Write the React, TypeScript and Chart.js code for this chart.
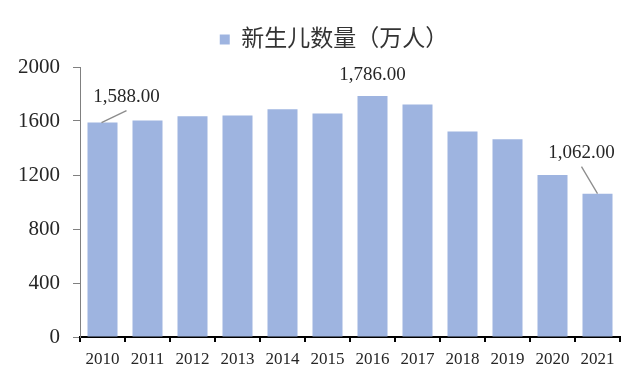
import React, { useEffect, useRef } from "react";
import { Chart, registerables } from "chart.js";

Chart.register(...registerables);

const categories = ["2010", "2011", "2012", "2013", "2014", "2015", "2016", "2017", "2018", "2019", "2020", "2021"];
const births = [1588, 1604, 1635, 1640, 1687, 1655, 1786, 1723, 1523, 1465, 1200, 1062];
const seriesName = "新生儿数量（万人）";
const yTicks = [0, 400, 800, 1200, 1600, 2000];
const labelledIndices = [0, 6, 11];

const BAR_COLOR = "rgb(158,180,224)";
const TEXT_COLOR = "#262626";
const SERIF = '"Liberation Serif", "Times New Roman", serif';

// label placement relative to bar top (dx, dy) and whether a leader line is drawn
const labelPlacement: Record<number, { dx: number; dy: number; leader: boolean }> = {
  0: { dx: 24, dy: -26, leader: true },
  6: { dx: 0, dy: -21, leader: false },
  11: { dx: -16, dy: -41, leader: true },
};

const fmt = (v: number) =>
  v.toLocaleString("en-US", { minimumFractionDigits: 2, maximumFractionDigits: 2 });

const dataLabelPlugin = {
  id: "dataLabels",
  afterDatasetsDraw(chart: any) {
    const ctx = chart.ctx;
    const meta = chart.getDatasetMeta(0);
    ctx.save();
    ctx.font = `19px ${SERIF}`;
    ctx.fillStyle = TEXT_COLOR;
    ctx.textAlign = "center";
    ctx.textBaseline = "middle";
    labelledIndices.forEach((i) => {
      const el = meta.data[i];
      if (!el) return;
      const p = labelPlacement[i];
      const lx = el.x + p.dx;
      const ly = el.y + p.dy;
      ctx.fillText(fmt(births[i]), lx, ly);
      if (p.leader) {
        ctx.strokeStyle = "#8c8c8c";
        ctx.lineWidth = 1.3;
        ctx.beginPath();
        if (i === 0) {
          ctx.moveTo(el.x - 1, el.y);
          ctx.lineTo(lx, ly + 14);
        } else {
          ctx.moveTo(lx, ly + 14);
          ctx.lineTo(el.x, el.y);
        }
        ctx.stroke();
      }
    });
    ctx.restore();
  },
};

// adds extra space between legend and chart area, and nudges the legend to the right
const legendMarginPlugin = {
  id: "legendMargin",
  beforeInit(chart: any) {
    const legend = chart.legend;
    if (!legend || legend.__patched) return;
    const origFit = legend.fit;
    legend.fit = function () {
      origFit.call(this);
      this.height += 6;
    };
    legend.__patched = true;
  },
  afterLayout(chart: any) {
    const legend = chart.legend;
    if (legend) legend.left = legend.left + 48;
  },
};

export default function App() {
  const canvasRef = useRef<HTMLCanvasElement | null>(null);

  useEffect(() => {
    if (!canvasRef.current) return;
    const chart = new Chart(canvasRef.current, {
      type: "bar",
      data: {
        labels: categories,
        datasets: [
          {
            label: seriesName,
            data: births,
            backgroundColor: BAR_COLOR,
            borderWidth: 0,
            barPercentage: 0.667,
            categoryPercentage: 1,
          },
        ],
      },
      options: {
        animation: false,
        responsive: false,
        maintainAspectRatio: false,
        layout: { padding: { top: 18, left: 0, right: 20, bottom: 0 } },
        plugins: {
          legend: {
            display: true,
            position: "top",
            fullSize: true,
            labels: {
              boxWidth: 10,
              boxHeight: 10,
              padding: 10,
              color: "#333",
              font: { size: 23, family: '"Liberation Serif", "Noto Sans CJK SC", serif' },
            },
          },
          tooltip: { enabled: false },
        },
        scales: {
          x: {
            grid: {
              display: true,
              drawOnChartArea: false,
              drawTicks: true,
              tickLength: 5,
              color: "#000",
              lineWidth: 2,
              offset: true,
            },
            border: { display: true, color: "#000", width: 2 },
            ticks: {
              color: TEXT_COLOR,
              font: { size: 17, family: SERIF },
              padding: 7,
              maxRotation: 0,
            },
            afterFit(scale: any) {
              scale.height = 37;
            },
          },
          y: {
            min: 0,
            max: 2000,
            afterBuildTicks(scale: any) {
              scale.ticks = yTicks.map((v) => ({ value: v }));
            },
            grid: {
              display: true,
              drawOnChartArea: false,
              drawTicks: true,
              tickLength: 7,
              color: "#808080",
              lineWidth: 1,
            },
            border: { display: true, color: "#808080", width: 1 },
            ticks: {
              color: TEXT_COLOR,
              font: { size: 21, family: SERIF },
              padding: 13,
              callback: (v: any) => String(v),
            },
            afterFit(scale: any) {
              scale.width = 80;
            },
          },
        },
      },
      plugins: [legendMarginPlugin, dataLabelPlugin],
    });
    return () => chart.destroy();
  }, []);

  return (
    <div style={{ position: "fixed", left: 0, top: 0, width: 640, height: 374, background: "#fff" }}>
      <canvas ref={canvasRef} width={640} height={374} style={{ width: 640, height: 374 }} />
    </div>
  );
}
